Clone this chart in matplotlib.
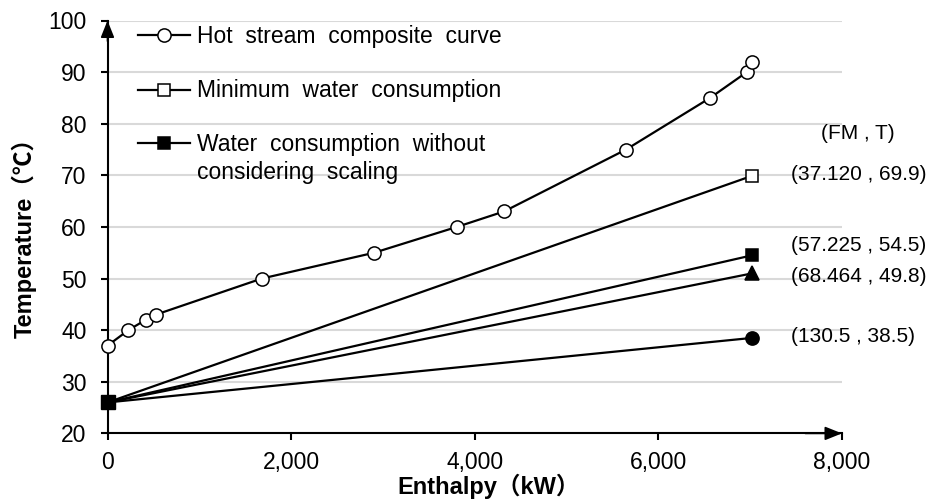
import matplotlib
matplotlib.use("Agg")
import matplotlib.pyplot as plt
from matplotlib.lines import Line2D
from matplotlib.ticker import FuncFormatter

plt.rcParams['font.family'] = ['Liberation Sans', 'Noto Sans CJK SC', 'DejaVu Sans']

# ---- data ----
hot_h = [0, 227, 416, 525, 1680, 2903, 3804, 4319, 5648, 6563, 6963, 7020]
hot_t = [37, 40, 42, 43, 50, 55, 60, 63, 75, 85, 90, 92]
cold_h = [0, 7020]
cold_start_t = 26
cold_end_t = [69.9, 54.5, 51.0, 38.5]
cold_markers = ['s', 's', '^', 'o']
cold_filled = [False, True, True, True]
fm_labels = ["(37.120 , 69.9)", "(57.225 , 54.5)", "(68.464 , 49.8)", "(130.5 , 38.5)"]
header_label = "(FM , T)"
legend_labels = ["Hot  stream  composite  curve",
                 "Minimum  water  consumption",
                 "Water  consumption  without\nconsidering  scaling"]
x_ticks = [0, 2000, 4000, 6000, 8000]
y_ticks = [20, 30, 40, 50, 60, 70, 80, 90, 100]

W, H = 932, 499
fig = plt.figure(figsize=(W / 100, H / 100), dpi=100)
x0, x1, y0, y1 = 107.5, 842.0, 433.4, 20.5
ax = fig.add_axes([x0 / W, 1 - y0 / H, (x1 - x0) / W, (y0 - y1) / H])
ax.set_xlim(0, 8000)
ax.set_ylim(20, 100)

LW = 1.6
# hot stream
ax.plot(hot_h, hot_t, color='black', lw=LW, marker='o', ms=9.5, mfc='white',
        mec='black', mew=1.1, clip_on=False, zorder=4)

# cold lines
order = [3, 2, 0, 1]
for i in order:
    t = [cold_start_t, cold_end_t[i]]
    ms = {'s': 9.0, '^': 10.5, 'o': 9.5}[cold_markers[i]]
    mfc = 'black' if cold_filled[i] else 'white'
    ev = [0, 1] if i == 1 else [1]
    ax.plot(cold_h, t, color='black', lw=LW, marker=cold_markers[i], ms=ms,
            mfc=mfc, mec='black', mew=1.1, markevery=ev, clip_on=False,
            zorder=5 if i == 1 else 4)

# start square a bit bigger
ax.plot(cold_h[:1], [cold_start_t], linestyle='none', marker='s', ms=10.5,
        color='black', clip_on=False, zorder=6)

# labels
dys = [1.2, 7.2, -2.0, 1.3]
for i, lab in enumerate(fm_labels):
    ax.annotate(lab, xy=(cold_h[1], cold_end_t[i]), xytext=(28, dys[i]),
                textcoords='offset points', ha='left', va='center',
                fontsize=15, annotation_clip=False)
ax.annotate(header_label, xy=(cold_h[1], cold_end_t[0]), xytext=(76, 30.5),
            textcoords='offset points', ha='center', va='center',
            fontsize=15, annotation_clip=False)

# axes styling
for s in ['top', 'right']:
    ax.spines[s].set_visible(False)
for s in ['left', 'bottom']:
    ax.spines[s].set_linewidth(1.5)
ax.set_xticks(x_ticks)
ax.set_yticks(y_ticks)
ax.xaxis.set_major_formatter(FuncFormatter(lambda v, p: f"{v:,.0f}"))
ax.tick_params(axis='both', direction='out', length=5, width=1.5, labelsize=16.5)
ax.tick_params(axis='y', pad=10)
ax.tick_params(axis='x', pad=8)
ax.yaxis.grid(True, color='#d9d9d9', lw=1.5)
ax.set_axisbelow(True)

# arrows on axes
ap = dict(arrowstyle='-|>,head_length=0.8,head_width=0.32', color='black', lw=1.2,
          shrinkA=0, shrinkB=0, mutation_scale=13)
ax.annotate('', xy=(1, 0), xytext=(0.95, 0), xycoords='axes fraction', arrowprops=ap,
            annotation_clip=False)
ax.annotate('', xy=(0, 1), xytext=(0, 0.95), xycoords='axes fraction', arrowprops=ap,
            annotation_clip=False)

ax.set_ylabel("Temperature（℃）", fontsize=17, fontweight='bold')
ax.yaxis.set_label_coords((37 - x0) / (x1 - x0), (y0 - 232) / (y0 - y1))
ax.set_xlabel("Enthalpy（kW）", fontsize=17, fontweight='bold')
ax.xaxis.set_label_coords((489 - x0) / (x1 - x0), (y0 - 474) / (y0 - y1))

# manual legend (figure pixel layout)
leg_styles = [dict(marker='o', mfc='white', ms=9.5),
              dict(marker='s', mfc='white', ms=8.5),
              dict(marker='s', mfc='black', ms=8.5)]
row_y = [35, 90, 143.3]
line_gap = 28.5
for st, lab, ry in zip(leg_styles, legend_labels, row_y):
    fy = 1 - ry / H
    fig.add_artist(Line2D([138 / W, 190 / W], [fy, fy], color='black', lw=LW))
    fig.add_artist(Line2D([164 / W], [fy], color='black', mec='black', mew=1.1,
                          linestyle='none', **st))
    for k, part in enumerate(lab.split("\n")):
        fig.text(197 / W, 1 - (ry + 7.5 + k * line_gap) / H, part, fontsize=16.5,
                 ha='left', va='baseline')

fig.savefig("out.png", dpi=100)
